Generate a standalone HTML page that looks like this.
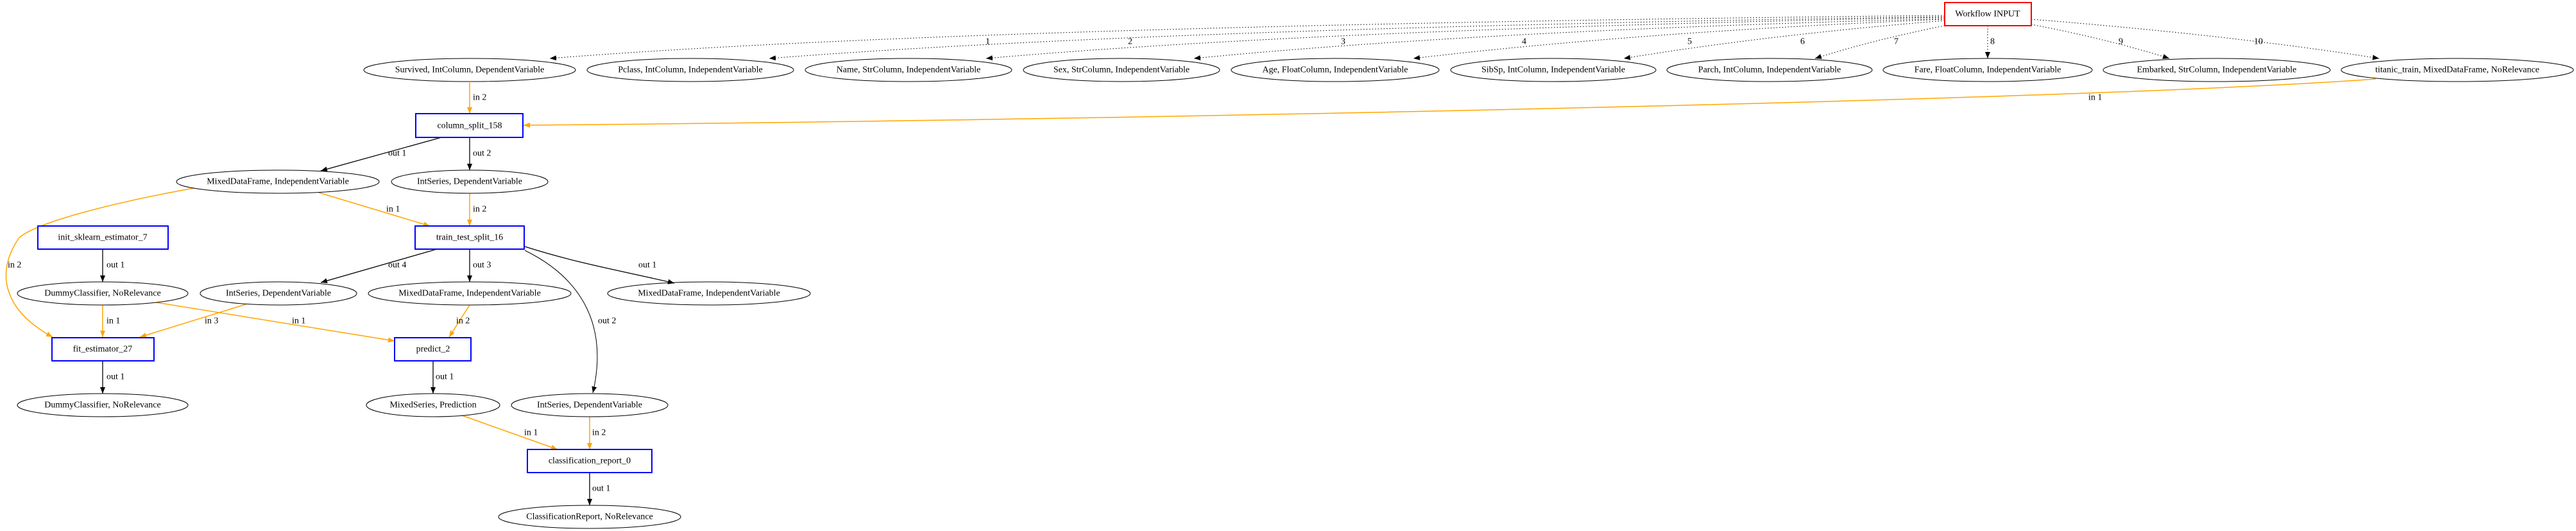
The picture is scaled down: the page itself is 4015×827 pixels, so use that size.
<!DOCTYPE html>
<html><head><meta charset="utf-8"><style>
html,body{margin:0;padding:0;background:#fff;}
svg{display:block;}
text{font-family:"Liberation Serif",serif;font-size:14px;fill:#000;}
.n{text-anchor:middle;dominant-baseline:central;}
.l{text-anchor:start;dominant-baseline:central;}
.e{fill:none;stroke:#000;stroke-width:1;}
.o{fill:none;stroke:#ffa500;stroke-width:1.5;}
.k{fill:none;stroke:#000;stroke-width:1.3;}
.d{fill:none;stroke:#000;stroke-width:1;stroke-dasharray:1.5,3;}
.b{fill:#fff;stroke:#0000ff;stroke-width:2;}
</style></head><body>
<svg width="4015" height="827" viewBox="0 0 4015 827" xmlns="http://www.w3.org/2000/svg">
<defs>
<marker id="ab" markerWidth="10" markerHeight="8" refX="10" refY="4" orient="auto" markerUnits="userSpaceOnUse"><path d="M0,0 L10,4 L0,8 z" fill="#000"/></marker>
<marker id="ao" markerWidth="10" markerHeight="8" refX="10" refY="4" orient="auto" markerUnits="userSpaceOnUse"><path d="M0,0 L10,4 L0,8 z" fill="#ffa500"/></marker>
</defs>

<!-- dotted edges from Workflow INPUT -->
<path class="d" marker-end="url(#ab)" d="M3031,24 Q1500,40 857,91"/>
<path class="d" marker-end="url(#ab)" d="M3031,26 Q1800,44 1199,91"/>
<path class="d" marker-end="url(#ab)" d="M3031,27 Q2050,46 1537,91"/>
<path class="d" marker-end="url(#ab)" d="M3031,29 Q2300,48 1861,91"/>
<path class="d" marker-end="url(#ab)" d="M3031,30 Q2550,50 2203,91"/>
<path class="d" marker-end="url(#ab)" d="M3031,32 Q2750,55 2531,91"/>
<path class="d" marker-end="url(#ab)" d="M3031,40 Q2920,62 2829,91"/>
<path class="d" marker-end="url(#ab)" d="M3098,40 L3098,91"/>
<path class="d" marker-end="url(#ab)" d="M3166,38 Q3290,62 3381,91"/>
<path class="d" marker-end="url(#ab)" d="M3166,30 Q3480,55 3708,91"/>
<text class="l" x="1536" y="65">1</text>
<text class="l" x="1758" y="65">2</text>
<text class="l" x="2090" y="65">3</text>
<text class="l" x="2372" y="65">4</text>
<text class="l" x="2630" y="65">5</text>
<text class="l" x="2806" y="65">6</text>
<text class="l" x="2952" y="65">7</text>
<text class="l" x="3102" y="65">8</text>
<text class="l" x="3302" y="65">9</text>
<text class="l" x="3513" y="65">10</text>

<rect x="3031" y="4" width="135" height="36" fill="#fff" stroke="#ff0000" stroke-width="2"/>
<text class="n" x="3098" y="22">Workflow INPUT</text>

<!-- top ellipses -->
<ellipse class="e" cx="732" cy="109" rx="165" ry="18" fill="#fff"/><text class="n" x="732" y="109">Survived, IntColumn, DependentVariable</text>
<ellipse class="e" cx="1076" cy="109" rx="161" ry="18"/><text class="n" x="1076" y="109">Pclass, IntColumn, IndependentVariable</text>
<ellipse class="e" cx="1416" cy="109" rx="161" ry="18"/><text class="n" x="1416" y="109">Name, StrColumn, IndependentVariable</text>
<ellipse class="e" cx="1748" cy="109" rx="153" ry="18"/><text class="n" x="1748" y="109">Sex, StrColumn, IndependentVariable</text>
<ellipse class="e" cx="2081" cy="109" rx="162" ry="18"/><text class="n" x="2081" y="109">Age, FloatColumn, IndependentVariable</text>
<ellipse class="e" cx="2421" cy="109" rx="160" ry="18"/><text class="n" x="2421" y="109">SibSp, IntColumn, IndependentVariable</text>
<ellipse class="e" cx="2758" cy="109" rx="160" ry="18"/><text class="n" x="2758" y="109">Parch, IntColumn, IndependentVariable</text>
<ellipse class="e" cx="3098" cy="109" rx="163" ry="18"/><text class="n" x="3098" y="109">Fare, FloatColumn, IndependentVariable</text>
<ellipse class="e" cx="3455" cy="109" rx="177" ry="18"/><text class="n" x="3455" y="109">Embarked, StrColumn, IndependentVariable</text>
<ellipse class="e" cx="3830" cy="109" rx="181" ry="18"/><text class="n" x="3830" y="109">titanic_train, MixedDataFrame, NoRelevance</text>

<!-- orange edges -->
<path class="o" marker-end="url(#ao)" d="M732,127 L732,177"/>
<text class="l" x="737" y="152">in 2</text>
<path class="o" marker-end="url(#ao)" d="M3703,123 C3200,160 1500,190 816,195"/>
<text class="l" x="3255" y="152">in 1</text>
<path class="o" marker-end="url(#ao)" d="M497,300 L670,352"/>
<text class="l" x="602" y="326">in 1</text>
<path class="o" marker-end="url(#ao)" d="M732,301 L732,352"/>
<text class="l" x="737" y="326">in 2</text>
<path class="o" marker-end="url(#ao)" d="M302,293 C180,315 60,345 30,370 C-5,420 0,480 82,525"/>
<text class="l" x="12" y="413">in 2</text>
<path class="o" marker-end="url(#ao)" d="M160,475 L160,525"/>
<text class="l" x="166" y="500">in 1</text>
<path class="o" marker-end="url(#ao)" d="M243,471 L615,531"/>
<text class="l" x="455" y="500">in 1</text>
<path class="o" marker-end="url(#ao)" d="M383,474 L218,525"/>
<text class="l" x="319" y="500">in 3</text>
<path class="o" marker-end="url(#ao)" d="M732,475 L700,525"/>
<text class="l" x="711" y="500">in 2</text>
<path class="o" marker-end="url(#ao)" d="M720,647 L869,700"/>
<text class="l" x="817" y="674">in 1</text>
<path class="o" marker-end="url(#ao)" d="M919,649 L919,700"/>
<text class="l" x="923" y="674">in 2</text>

<!-- black edges -->
<path class="k" marker-end="url(#ab)" d="M688,214 L500,266"/>
<text class="l" x="605" y="239">out 1</text>
<path class="k" marker-end="url(#ab)" d="M732,214 L732,265"/>
<text class="l" x="737" y="239">out 2</text>
<path class="k" marker-end="url(#ab)" d="M160,388 L160,439"/>
<text class="l" x="166" y="413">out 1</text>
<path class="k" marker-end="url(#ab)" d="M681,388 L500,440"/>
<text class="l" x="605" y="413">out 4</text>
<path class="k" marker-end="url(#ab)" d="M732,388 L732,439"/>
<text class="l" x="737" y="413">out 3</text>
<path class="k" marker-end="url(#ab)" d="M818,384 C900,410 960,420 1051,441"/>
<text class="l" x="995" y="413">out 1</text>
<path class="e" marker-end="url(#ab)" d="M818,390 C900,430 950,500 924,612"/>
<text class="l" x="932" y="500">out 2</text>
<path class="k" marker-end="url(#ab)" d="M160,562 L160,613"/>
<text class="l" x="166" y="587">out 1</text>
<path class="k" marker-end="url(#ab)" d="M675,562 L675,613"/>
<text class="l" x="679" y="587">out 1</text>
<path class="k" marker-end="url(#ab)" d="M919,736 L919,787"/>
<text class="l" x="923" y="761">out 1</text>

<!-- boxes -->
<rect class="b" x="648" y="177" width="167" height="37"/><text class="n" x="732" y="196">column_split_158</text>
<rect class="b" x="59" y="352" width="203" height="36"/><text class="n" x="160" y="370">init_sklearn_estimator_7</text>
<rect class="b" x="647" y="352" width="170" height="36"/><text class="n" x="732" y="370">train_test_split_16</text>
<rect class="b" x="81" y="526" width="159" height="36"/><text class="n" x="160" y="544">fit_estimator_27</text>
<rect class="b" x="615" y="526" width="119" height="36"/><text class="n" x="675" y="544">predict_2</text>
<rect class="b" x="822" y="700" width="194" height="36"/><text class="n" x="919" y="718">classification_report_0</text>

<!-- ellipses -->
<ellipse class="e" cx="433" cy="283" rx="158" ry="18"/><text class="n" x="433" y="283">MixedDataFrame, IndependentVariable</text>
<ellipse class="e" cx="732" cy="283" rx="122" ry="18"/><text class="n" x="732" y="283">IntSeries, DependentVariable</text>
<ellipse class="e" cx="160" cy="457" rx="133" ry="18"/><text class="n" x="160" y="457">DummyClassifier, NoRelevance</text>
<ellipse class="e" cx="434" cy="457" rx="122" ry="18"/><text class="n" x="434" y="457">IntSeries, DependentVariable</text>
<ellipse class="e" cx="732" cy="457" rx="158" ry="18"/><text class="n" x="732" y="457">MixedDataFrame, IndependentVariable</text>
<ellipse class="e" cx="1105" cy="457" rx="158" ry="18"/><text class="n" x="1105" y="457">MixedDataFrame, IndependentVariable</text>
<ellipse class="e" cx="160" cy="631" rx="133" ry="18"/><text class="n" x="160" y="631">DummyClassifier, NoRelevance</text>
<ellipse class="e" cx="675" cy="631" rx="104" ry="18"/><text class="n" x="675" y="631">MixedSeries, Prediction</text>
<ellipse class="e" cx="919" cy="631" rx="122" ry="18"/><text class="n" x="919" y="631">IntSeries, DependentVariable</text>
<ellipse class="e" cx="919" cy="805" rx="142" ry="18"/><text class="n" x="919" y="805">ClassificationReport, NoRelevance</text>
</svg>
</body></html>
